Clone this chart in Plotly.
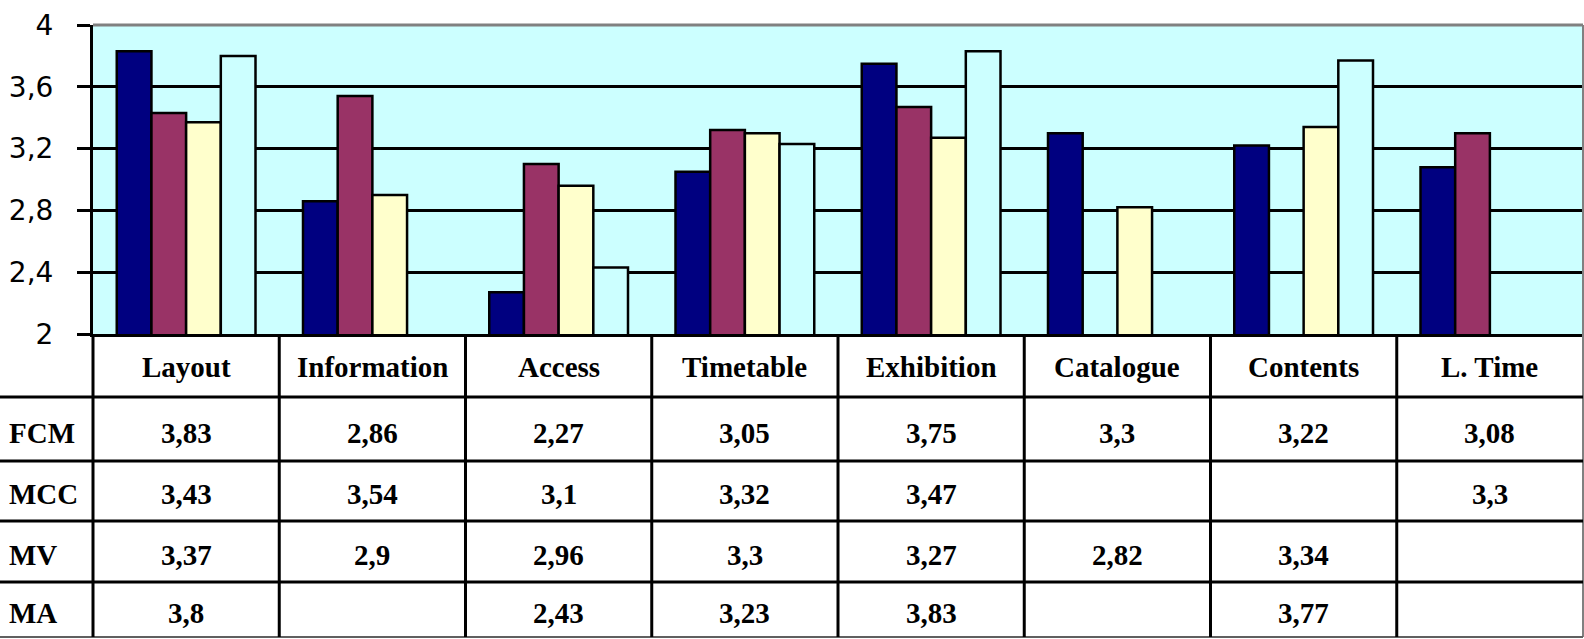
import plotly.graph_objects as go

categories = ["Layout", "Information", "Access", "Timetable", "Exhibition", "Catalogue", "Contents", "L. Time"]
series_names = ["FCM", "MCC", "MV", "MA"]
fcm = [3.83, 2.86, 2.27, 3.05, 3.75, 3.3, 3.22, 3.08]
mcc = [3.43, 3.54, 3.1, 3.32, 3.47, None, None, 3.3]
mv = [3.37, 2.9, 2.96, 3.3, 3.27, 2.82, 3.34, None]
ma = [3.8, None, 2.43, 3.23, 3.83, None, 3.77, None]
y_ticks = [2, 2.4, 2.8, 3.2, 3.6, 4]

series_values = [fcm, mcc, mv, ma]
colors = ["#000080", "#993366", "#FFFFCC", "#CCFFFF"]

W, H = 1584, 639
L, R, T, B = 93, 1583, 25, 334
pw, ph = R - L, B - T


def py(p):  # pixel y -> paper y
    return (B - p) / ph


def px(p):  # pixel x -> paper x
    return (p - L) / pw


fig = go.Figure()
for name, vals, col in zip(series_names, series_values, colors):
    fig.add_trace(go.Bar(
        x=categories, y=vals, name=name,
        marker=dict(color=col, line=dict(color="black", width=2.5)),
    ))

shapes = []
shapes.append(dict(type="line", xref="paper", yref="paper", x0=0, x1=1, y0=1, y1=1,
                   line=dict(color="#808080", width=3), layer="above"))
shapes.append(dict(type="line", xref="paper", yref="paper", x0=1, x1=1, y0=1, y1=py(637),
                   line=dict(color="#808080", width=2), layer="above"))

row_lines = [397, 461, 521, 582]
for r in row_lines:
    shapes.append(dict(type="line", xref="paper", yref="paper", x0=px(0), x1=1, y0=py(r), y1=py(r),
                       line=dict(color="black", width=3)))
shapes.append(dict(type="line", xref="paper", yref="paper", x0=px(0), x1=1, y0=py(637), y1=py(637),
                   line=dict(color="#606060", width=2)))
shapes.append(dict(type="line", xref="paper", yref="paper", x0=0, x1=0, y0=0, y1=py(637),
                   line=dict(color="black", width=3)))
for i in range(len(categories) - 1):
    shapes.append(dict(type="line", xref="x", yref="paper", x0=i + 0.5, x1=i + 0.5, y0=0, y1=py(637),
                       line=dict(color="black", width=3)))

annotations = []
tfont = dict(family="Liberation Serif, Times New Roman, serif", size=29, color="black", weight="bold")
header_y = py((B + 397) / 2 + 1)
row_centers = [py((397 + 461) / 2 + 4), py((461 + 521) / 2 + 3), py((521 + 582) / 2 + 3), py((582 + 637) / 2 + 3)]
for c in categories:
    annotations.append(dict(xref="x", yref="paper", x=c, y=header_y, text=c,
                            showarrow=False, font=tfont, xanchor="center", yanchor="middle"))
for name, vals, yc in zip(series_names, series_values, row_centers):
    annotations.append(dict(xref="paper", yref="paper", x=px(7), y=yc, text=name,
                            showarrow=False, font=tfont, xanchor="left", yanchor="middle"))
    for c, v in zip(categories, vals):
        if v is None:
            continue
        txt = ("%g" % v).replace(".", ",")
        annotations.append(dict(xref="x", yref="paper", x=c, y=yc, text=txt,
                                showarrow=False, font=tfont, xanchor="center", yanchor="middle"))

fig.update_layout(
    width=W, height=H,
    margin=dict(l=L, r=W - R, t=T, b=H - B, pad=0),
    plot_bgcolor="#CCFFFF", paper_bgcolor="white",
    barmode="group", bargap=0.255, bargroupgap=0,
    showlegend=False,
    separators=",.",
    shapes=shapes, annotations=annotations,
    xaxis=dict(showticklabels=False, showgrid=False, showline=True, linecolor="black", linewidth=3,
               ticks="", range=[-0.5, 7.5], fixedrange=True),
    yaxis=dict(range=[2, 4], tickvals=y_ticks, showgrid=True, gridcolor="black", gridwidth=3,
               showline=True, linecolor="black", linewidth=3, ticks="outside", ticklen=13,
               tickwidth=3, tickcolor="black", ticklabelstandoff=18,
               tickfont=dict(family="DejaVu Sans", size=28, color="black"), zeroline=False),
)

fig.write_html("out.html")
